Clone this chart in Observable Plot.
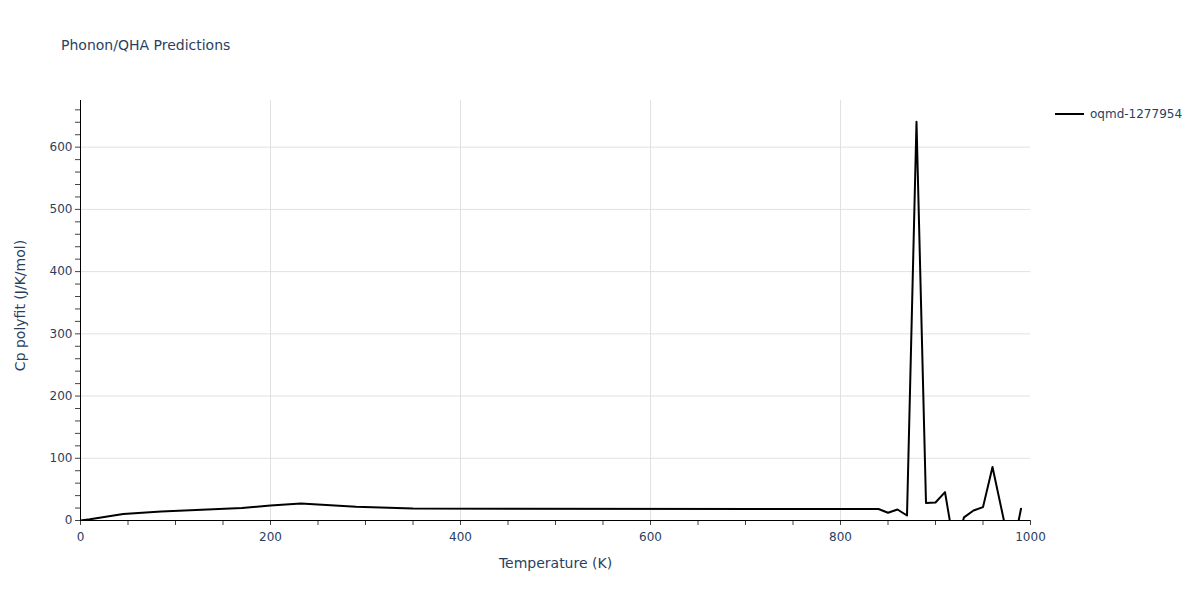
<!DOCTYPE html>
<html>
<head>
<meta charset="utf-8">
<script src="https://cdn.jsdelivr.net/npm/d3@7"></script>
<script src="https://cdn.jsdelivr.net/npm/@observablehq/plot@0.6"></script>
<style>
  html, body { margin: 0; padding: 0; background: #fff; }
  body { font-family: verdana, "DejaVu Sans", sans-serif; }
  #wrap { position: relative; width: 1200px; height: 600px; }
  #title { position: absolute; left: 61px; top: 37px; font-size: 14px; line-height: 17px; color: #2a3f5f; white-space: nowrap; }
  #chart { position: absolute; left: 0; top: 60px; }
  #legend { position: absolute; left: 1055px; top: 106px; font-size: 12px; color: #2a3f5f; display: flex; align-items: center; white-space: nowrap; }
  #legend svg { margin-right: 6px; }
</style>
</head>
<body>
<div id="wrap">
  <div id="title">Phonon/QHA Predictions</div>
  <div id="chart"></div>
  <div id="legend"><svg width="29" height="16"><line x1="0" x2="29" y1="8" y2="8" stroke="#000" stroke-width="2"/></svg><span>oqmd-1277954</span></div>
</div>
<script>
const seriesName = "oqmd-1277954";
const temperature = [0, 10, 45, 85, 170, 200, 232, 290, 350, 450, 840, 850, 860, 870, 880, 890, 900, 910, 920, 930, 940, 950, 960, 980, 990];
const cpPolyfit   = [0, 2, 10.5, 14.5, 20, 24, 27.3, 22, 19.3, 18.8, 18.5, 12.4, 17.7, 8, 641, 28, 29, 45.6, -45, 5, 16, 21.5, 86, -57, 18.8];
const xTicks = d3.range(0, 1001, 50);
const xLabelTicks = [0, 200, 400, 600, 800, 1000];
const yTicks = d3.range(0, 661, 20);
const yLabelTicks = [0, 100, 200, 300, 400, 500, 600];
const xTitle = "Temperature (K)";
const yTitle = "Cp polyfit (J/K/mol)";

const data = temperature.map((t, i) => ({T: t, Cp: cpPolyfit[i]}));
const textColor = "#2a3f5f";
const gridColor = "#e1e1e1";

const chart = Plot.plot({
  width: 1200,
  height: 540,
  marginLeft: 80,
  marginRight: 170,
  marginTop: 40,
  marginBottom: 80,
  style: {fontFamily: 'verdana, "DejaVu Sans", sans-serif', fontSize: "12px", color: textColor, background: "#fff"},
  x: {domain: [0, 1000]},
  y: {domain: [0, 675]},
  marks: [
    Plot.ruleX(xLabelTicks.filter(d => d > 0 && d < 1000), {stroke: gridColor, strokeWidth: 1}),
    Plot.ruleY(yLabelTicks.filter(d => d > 0), {stroke: gridColor, strokeWidth: 1}),
    Plot.axisX({ticks: xTicks, tickSize: 5, tickPadding: 7, tickFormat: d => xLabelTicks.includes(d) ? String(d) : "", stroke: "#444", fill: textColor, label: null}),
    Plot.axisY({ticks: yTicks, tickSize: 5, tickPadding: 3, tickFormat: d => yLabelTicks.includes(d) ? String(d) : "", stroke: "#444", fill: textColor, label: null}),
    Plot.line(data, {x: "T", y: "Cp", stroke: "#000", strokeWidth: 2, clip: true}),
    Plot.ruleY([0], {stroke: "#000", strokeWidth: 1}),
    Plot.ruleX([0], {stroke: "#000", strokeWidth: 1}),
    Plot.text([xTitle], {frameAnchor: "bottom", dy: 47, fontSize: 14, fill: textColor, textAnchor: "middle"}),
    Plot.text([yTitle], {frameAnchor: "left", dx: -60, dy: -5, rotate: -90, fontSize: 14, fill: textColor, textAnchor: "middle"})
  ]
});
document.getElementById("chart").appendChild(chart);
</script>
</body>
</html>
